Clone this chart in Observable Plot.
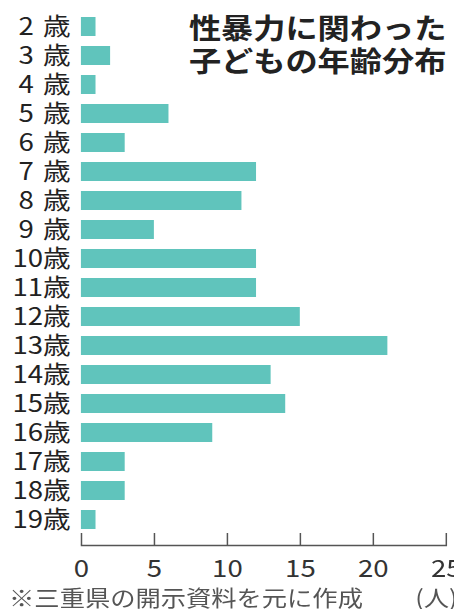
<!DOCTYPE html>
<html><head><meta charset="utf-8">
<script src="https://cdn.jsdelivr.net/npm/d3@7"></script>
<script src="https://cdn.jsdelivr.net/npm/@observablehq/plot@0.6"></script>
<style>
html,body{margin:0;padding:0;background:#fff;overflow:hidden}
#wrap{position:relative;width:395px;height:609px;transform:scaleX(1.1494);transform-origin:0 0}
</style></head>
<body><div id="wrap"></div>
<script>
const ageLabels = ["2\u2004歳","3\u2004歳","4\u2004歳","5\u2004歳","6\u2004歳","7\u2004歳","8\u2004歳","9\u2004歳","10歳","11歳","12歳","13歳","14歳","15歳","16歳","17歳","18歳","19歳"];
const counts = [1,2,1,6,3,12,11,5,12,12,15,21,13,14,9,3,3,1];
const xTicks = [0,5,10,15,20,25];
const titleText = "性暴力に関わった\n子どもの年齢分布";
const noteText = "※三重県の開示資料を元に作成";
const unitText = "(人)";

const data = ageLabels.map((a,i)=>({age:a, n:counts[i]}));
const font = "'Noto Sans CJK JP', 'Noto Sans', sans-serif";

const chart = Plot.plot({
  width: 395, height: 609,
  marginLeft: 70.4, marginRight: 7.2, marginTop: 0, marginBottom: 64,
  style: {fontFamily: font, background: "#fff", overflow: "visible"},
  x: {domain: [0,25]},
  y: {domain: ageLabels, padding: 0.35},
  marks: [
    Plot.barX(data, {x: "n", y: "age", fill: "#60c4bc"}),
    Plot.frame({anchor: "bottom", stroke: "#555", strokeWidth: 1.3}),
    Plot.axisX({ticks: xTicks, tickSize: -12, tickPadding: 26, fontSize: 24, stroke: "#555", strokeWidth: 1.3, fill: "#333", label: null}),
    Plot.axisY({tickSize: 0, tickPadding: 9.5, fontSize: 24, fill: "#222", label: null}),
    Plot.text([titleText], {frameAnchor: "top-right", textAnchor: "end", lineAnchor: "top", dy: 15, fontSize: 28, fontWeight: "bold", lineHeight: 1.18, fill: "#222"}),
    Plot.text([noteText], {frameAnchor: "bottom-left", textAnchor: "start", lineAnchor: "bottom", dx: -63, dy: 60, fontSize: 22, fill: "#555"}),
    Plot.text([unitText], {frameAnchor: "bottom-right", textAnchor: "start", lineAnchor: "bottom", dx: -27, dy: 60, fontSize: 22, fill: "#555"})
  ]
});
document.getElementById("wrap").appendChild(chart);
</script></body></html>
